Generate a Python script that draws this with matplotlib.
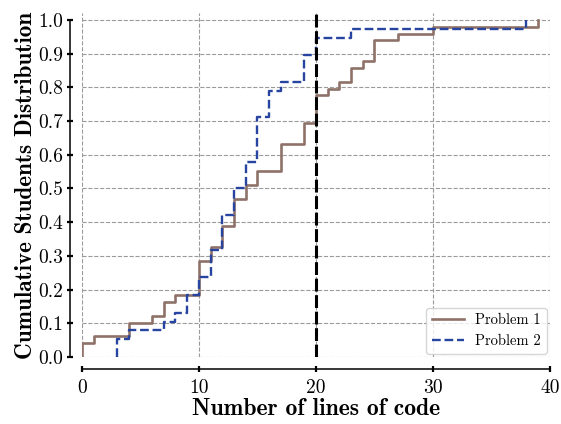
import matplotlib
matplotlib.use("Agg")
import matplotlib.pyplot as plt

# Problem 1: step positions (lines of code) and cumulative fraction of students
p1_x = [0, 1, 4, 6, 7, 8, 10, 11, 12, 13, 14, 15, 17, 19, 20, 21, 22, 23, 24, 25, 27, 30, 39]
p1_y = [0.041, 0.061, 0.102, 0.122, 0.163, 0.184, 0.286, 0.327, 0.388, 0.469, 0.510,
        0.551, 0.633, 0.694, 0.776, 0.796, 0.816, 0.857, 0.878, 0.939, 0.959, 0.980, 1.000]

# Problem 2
p2_x = [3, 4, 7, 8, 9, 10, 11, 12, 13, 14, 15, 16, 17, 19, 20, 23, 38]
p2_y = [0.053, 0.079, 0.105, 0.132, 0.184, 0.237, 0.316, 0.421, 0.500, 0.579, 0.711,
        0.789, 0.816, 0.895, 0.947, 0.974, 1.000]

threshold = 20
xticks = [0, 10, 20, 30, 40]
yticks = [0.0, 0.1, 0.2, 0.3, 0.4, 0.5, 0.6, 0.7, 0.8, 0.9, 1.0]

plt.rcParams['font.family'] = ['cmr10', 'DejaVu Serif']
plt.rcParams['axes.formatter.use_mathtext'] = True

fig = plt.figure(figsize=(5.61, 4.24), dpi=100)
ax = fig.add_axes([0.146, 0.158, 0.834, 0.811])

c1 = '#8e7269'
c2 = '#2644a0'

ax.step([p1_x[0]] + p1_x, [0.0] + p1_y, where='post', color=c1, lw=1.9,
        label='Problem 1', zorder=3)
ax.step([p2_x[0]] + p2_x, [0.0] + p2_y, where='post', color=c2, lw=1.7,
        ls='--', label='Problem 2', zorder=3)
ax.axvline(threshold, color='black', lw=2.2, ls=(0, (4.2, 1.2)), zorder=4)

ax.set_xlim(0, 40)
ax.set_ylim(0, 1.02)
ax.set_xticks(xticks)
ax.set_yticks(yticks)
ax.set_xticklabels([str(t) for t in xticks])
ax.set_yticklabels([f'{t:.1f}' for t in yticks])

ax.grid(True, color='#9a9a9a', ls='--', lw=0.8, zorder=0)
ax.set_axisbelow(True)

for s in ['top', 'right']:
    ax.spines[s].set_visible(False)
ax.spines['left'].set_position(('outward', 8.6))
ax.spines['bottom'].set_position(('outward', 8.6))
ax.spines['left'].set_bounds(0, 1.0)
ax.spines['bottom'].set_bounds(0, 40)
ax.spines['left'].set_linewidth(1.1)
ax.spines['bottom'].set_linewidth(1.1)
ax.tick_params(axis='both', direction='inout', length=4, width=1.6, labelsize=14)
ax.tick_params(axis='x', pad=5)
ax.tick_params(axis='y', pad=3)

ax.set_xlabel('Number of lines of code', family=['cmb10', 'DejaVu Serif'], fontsize=17, labelpad=1)
ax.set_ylabel('Cumulative Students Distribution', family=['cmb10', 'DejaVu Serif'], fontsize=16.7, labelpad=1)

leg = ax.legend(loc='lower right', fontsize=10.5, frameon=True, fancybox=True,
                borderaxespad=0.2, handlelength=2.2)
leg.get_frame().set_edgecolor('#cccccc')

fig.savefig('out.png', dpi=100)
